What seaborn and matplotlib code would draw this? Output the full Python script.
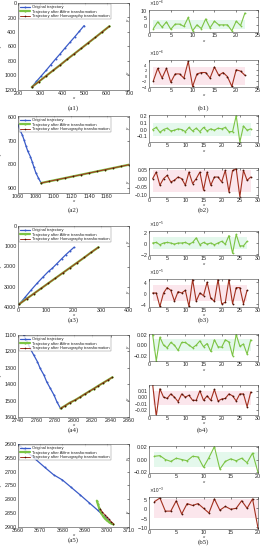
import numpy as np
import pandas as pd
import matplotlib
matplotlib.use("Agg")
import matplotlib.pyplot as plt
import seaborn as sns
from matplotlib.ticker import ScalarFormatter

sns.set_style("white")
plt.rcParams['font.family'] = ['Liberation Sans', 'DejaVu Sans']
plt.rcParams['xtick.direction'] = 'in'
plt.rcParams['ytick.direction'] = 'in'

# ---------------- trajectory data (left column) ----------------
a1_orig_x = [262, 283, 305, 327, 348, 369, 391, 412, 434, 456, 477, 498]
a1_orig_y = [1160, 1082, 1005, 928, 851, 774, 697, 620, 542, 465, 388, 311]
a1_aff_x = [262, 294, 326, 358, 390, 421, 453, 485, 517, 549, 580, 612]
a1_aff_y = [1160, 1084, 1007, 931, 855, 778, 702, 626, 549, 473, 397, 320]
a1_hom_x = [262, 294, 326, 358, 390, 421, 453, 485, 517, 549, 580, 612]
a1_hom_y = [1160, 1084, 1007, 931, 855, 778, 702, 626, 549, 473, 397, 320]

a2_orig_x = [1060, 1062, 1065, 1067, 1069, 1071, 1074, 1076, 1078, 1080, 1083, 1086]
a2_orig_y = [632, 654, 677, 699, 722, 744, 767, 789, 812, 834, 857, 878]
a2_aff_x = [1086, 1095, 1104, 1113, 1122, 1131, 1140, 1149, 1158, 1167, 1176, 1185]
a2_aff_y = [878, 871, 864, 857, 850, 843, 836, 829, 822, 815, 808, 801]
a2_hom_x = a2_aff_x
a2_hom_y = a2_aff_y

a3_orig_x = [5, 25, 48, 70, 90, 110, 124, 140, 158, 172, 188, 202]
a3_orig_y = [3850, 3530, 3150, 2810, 2520, 2240, 2080, 1860, 1610, 1420, 1220, 1050]
a3_aff_x = [5, 31, 57, 83, 109, 135, 161, 187, 213, 239, 264, 290]
a3_aff_y = [3850, 3595, 3340, 3085, 2830, 2575, 2320, 2065, 1810, 1555, 1300, 1050]
a3_hom_x = a3_aff_x
a3_hom_y = a3_aff_y

a4_orig_x = [2746, 2750, 2753, 2757, 2761, 2764, 2768, 2771, 2775, 2779, 2782, 2786]
a4_orig_y = [1100, 1141, 1181, 1222, 1263, 1304, 1344, 1385, 1426, 1467, 1507, 1548]
a4_aff_x = [2786, 2791, 2796, 2802, 2807, 2812, 2817, 2822, 2827, 2832, 2837, 2842]
a4_aff_y = [1548, 1531, 1513, 1496, 1479, 1461, 1444, 1427, 1409, 1392, 1375, 1358]
a4_hom_x = a4_aff_x
a4_hom_y = a4_aff_y

a5_orig_x = [3660, 3664, 3668, 3672, 3676, 3680, 3684, 3688, 3692, 3696, 3699, 3702]
a5_orig_y = [2600, 2628, 2656, 2684, 2711, 2730, 2757, 2784, 2812, 2840, 2863, 2885]
a5_aff_x = [3695.5, 3696.0, 3696.5, 3697.0, 3697.5, 3698.3, 3699.0, 3700.0, 3701.0, 3702.0, 3703.0]
a5_aff_y = [2805, 2818, 2830, 2840, 2850, 2860, 2868, 2876, 2882, 2887, 2890]
a5_hom_x = [3697.0, 3698.0, 3699.0, 3700.0, 3701.0, 3702.0, 3703.0]
a5_hom_y = [2835, 2846, 2855, 2864, 2872, 2881, 2888]

# ---------------- error data (right column) ----------------
b1_aff = [-2.5, 2, -1.5, 2, -3, 0.5, 0.5, -1, 5, -4, 0, -2.5, 4, -2, 2.5, 0, 0, 0, -4, 2.5, -0.5, 8]
b1_hom = [-2, 2.5, -1, 2.5, -2.5, 0.5, 0.5, -1, 5, -4, 0.5, 1, 1, -1, 3, 0, 1, -0.5, -4, 2, 1.5, 0]
b2_aff = [0, 0.03, -0.04, 0, 0.02, -0.02, -0.01, 0.01, 0, -0.03, 0.03, -0.02, 0.02, -0.03,
          0.03, -0.02, 0.01, -0.01, 0.02, 0.01, 0.03, -0.03, -0.03, 0.2, -0.18, 0.05, -0.01, 0.01]
b2_hom = [0, 0.04, -0.04, 0, 0.02, -0.02, -0.01, 0.01, 0, -0.04, 0.04, -0.03, 0, 0.04,
          -0.07, 0.04, -0.04, 0.01, 0.01, -0.02, 0.05, -0.08, 0.05, 0.06, -0.11, 0.05, -0.01, 0.01]
b3_aff = [0, 0.1, -0.3, 0, 0.1, 0, -0.2, 0, 0, 0.1, -0.2, 0.1, 0.9, -0.3, 0.1, -0.2, 0,
          -0.3, 0, 0.3, -0.2, 1.3, -1.8, 1.5, -0.5, -0.5, 0.3]
b3_hom = [0, 0, -5, 0, 2, 1, -3, 0.5, 0, 1, -5, 5, -3, 0, -1, 4, -2, -3, 5, -4, -3.5, 5,
          -4, 2, 2, -4, 1]
b4_aff = [0.02, -0.03, 0.015, 0, -0.005, 0.005, 0, -0.01, 0.005, 0.005, 0, -0.005, 0, 0.008,
          -0.003, 0.003, -0.012, 0.01, -0.003, -0.004, 0.01, 0.006, -0.02, 0.02, -0.002,
          0.002, -0.017, 0.01]
b4_hom = [0.02, -0.03, 0.013, 0, -0.002, 0.005, 0, -0.007, 0.005, 0, 0.003, -0.005, -0.005,
          0.01, -0.005, 0.002, -0.005, 0.012, -0.006, -0.003, -0.002, 0.005, 0.002, -0.006,
          0.005, 0.005, -0.015, 0.008]
b5_aff = [0.005, 0.006, 0, -0.003, 0.002, 0, -0.002, 0.005, 0.004, -0.012, 0.003, 0.02,
          -0.015, -0.003, 0.001, -0.002, 0.002, -0.005, 0.01, -0.02]
b5_hom = [3.5, 5.5, -1.5, -1.5, 4, -3, 2.5, 1.5, 2.5, 0, -2.5, 5, -1, 1, -0.5, 0, 4, 0, 5, -10.5]

panel_labels_a = ['(a1)', '(a2)', '(a3)', '(a4)', '(a5)']
panel_labels_b = ['(b1)', '(b2)', '(b3)', '(b4)', '(b5)']
legend_names = ['Original trajectory', 'Trajectory after Affine transformation',
                'Trajectory after Homography transformation']

BLUE = '#3a5bc8'
GREEN = '#7cc444'
RED = '#a3301f'
MARK = '#4a1208'

W, H = 266, 550
fig = plt.figure(figsize=(W / 100, H / 100), dpi=100)

def rect(x0, y0, x1, y1):
    return [x0 / W, 1 - y1 / H, (x1 - x0) / W, (y1 - y0) / H]

TFS = 3.9

def style_axes(ax, ylab_x, xpad, yfs=TFS):
    for s in ax.spines.values():
        s.set_linewidth(0.4)
        s.set_color('#404040')
    ax.tick_params(labelsize=TFS, length=1.5, width=0.4, pad=1.0, top=True, right=True,
                   direction='in')
    ax.tick_params(axis='y', labelsize=yfs)
    ax.set_xlabel('x', fontsize=3.2, fontstyle='italic', labelpad=xpad)
    ax.set_ylabel('y', fontsize=3.2, fontstyle='italic')
    ax.yaxis.set_label_coords(ylab_x, 0.5)

# ---- left column ----
a_rects = [rect(18, 3, 129, 90), rect(18, 116, 129, 193), rect(18, 226, 129, 307),
           rect(18, 335, 129, 417), rect(18, 444, 129, 527)]
a_data = [
    (a1_orig_x, a1_orig_y, a1_aff_x, a1_aff_y, a1_hom_x, a1_hom_y, (200, 700), (1200, 0),
     [200, 300, 400, 500, 600, 700], [0, 200, 400, 600, 800, 1000, 1200]),
    (a2_orig_x, a2_orig_y, a2_aff_x, a2_aff_y, a2_hom_x, a2_hom_y, (1060, 1185), (920, 596),
     [1060, 1080, 1100, 1120, 1140, 1160], [600, 700, 800, 900]),
    (a3_orig_x, a3_orig_y, a3_aff_x, a3_aff_y, a3_hom_x, a3_hom_y, (0, 400), (4000, 0),
     [0, 100, 200, 300, 400], [0, 1000, 2000, 3000, 4000]),
    (a4_orig_x, a4_orig_y, a4_aff_x, a4_aff_y, a4_hom_x, a4_hom_y, (2740, 2860), (1600, 1100),
     [2740, 2760, 2780, 2800, 2820, 2840, 2860], [1100, 1200, 1300, 1400, 1500, 1600]),
    (a5_orig_x, a5_orig_y, a5_aff_x, a5_aff_y, a5_hom_x, a5_hom_y, (3660, 3710), (2900, 2600),
     [3660, 3670, 3680, 3690, 3700, 3710], [2600, 2650, 2700, 2750, 2800, 2850, 2900]),
]
a_label_y = [108, 210, 320, 430, 540]

for i, (r, d) in enumerate(zip(a_rects, a_data)):
    ox, oy, ax_, ay_, hx, hy, xl, yl, xt, yt = d
    ax = fig.add_axes(r)
    sns.lineplot(x=ox, y=oy, sort=False, estimator=None, color=BLUE, lw=0.9, marker='o',
                 markersize=1.4, markeredgewidth=0, ax=ax, label=legend_names[0])
    sns.lineplot(x=ax_, y=ay_, sort=False, estimator=None, color=GREEN, lw=1.6, marker='o',
                 markersize=1.6, markeredgewidth=0, ax=ax, label=legend_names[1])
    sns.lineplot(x=hx, y=hy, sort=False, estimator=None, color=RED, lw=0.7, marker='o',
                 markersize=1.2, markerfacecolor=MARK, markeredgewidth=0, ax=ax,
                 label=legend_names[2])
    ax.set_xlim(*xl)
    ax.set_ylim(*yl)
    ax.set_xticks(xt)
    ax.set_yticks(yt)
    style_axes(ax, -0.14, 0.0)
    leg = ax.legend(loc='upper left', fontsize=2.9, frameon=True, handlelength=2.4,
                    borderpad=0.25, labelspacing=0.15, handletextpad=0.5,
                    borderaxespad=0.3, fancybox=False)
    leg.get_frame().set_linewidth(0.3)
    leg.get_frame().set_edgecolor('#606060')
    fig.text(73 / W, 1 - a_label_y[i] / H, panel_labels_a[i], fontsize=5,
             family=['Liberation Serif', 'DejaVu Serif'], ha='center', va='center')

# ---- right column ----
b_rects = [
    (rect(149, 10, 258, 32), rect(149, 60, 258, 87)),
    (rect(149, 115, 258, 142), rect(149, 168, 258, 197)),
    (rect(149, 231, 258, 255), rect(149, 279, 258, 307)),
    (rect(149, 334, 258, 361), rect(149, 385, 258, 415)),
    (rect(149, 446, 258, 473), rect(149, 497, 258, 529)),
]
b_series = [(b1_aff, b1_hom), (b2_aff, b2_hom), (b3_aff, b3_hom), (b4_aff, b4_hom),
            (b5_aff, b5_hom)]
b_exp = [(-6, -6), (0, 0), (-5, -5), (0, 0), (0, -3)]
b_xlim = [25, 30, 30, 30, 20]
b_ylims = [((-4.8, 10), (-4.2, 5.5)), ((-0.18, 0.21), (-0.112, 0.065)),
           ((-2.1, 2.1), (-5.2, 5.2)), ((-0.03, 0.021), (-0.028, 0.019)),
           ((-0.021, 0.021), (-11, 6))]
b_yticks = [([0, 5, 10], [-4, -2, 0, 2, 4]), ([-0.1, 0, 0.1, 0.2], [-0.1, -0.05, 0, 0.05]),
            ([-2, 0, 2], [-4, 0, 4]), ([-0.02, 0, 0.02], [-0.02, -0.01, 0, 0.01]),
            ([-0.02, 0, 0.02], [-10, -5, 0, 5])]
b_yfs = [(TFS, 2.9), (TFS, 3.6), (TFS, 3.4), (TFS, 3.6), (TFS, TFS)]
b_bands = [((-3, 3), (-3.5, 3)), ((-0.1, 0.1), (-0.08, 0.05)), ((-1, 1), (-3, 3)),
           ((-0.012, 0.012), (-0.012, 0.01)), ((-0.012, 0.012), (-5, 5))]
b_label_y = [108, 210, 320, 430, 542]

for i in range(5):
    for j in range(2):
        ax = fig.add_axes(b_rects[i][j])
        e = b_exp[i][j]
        s = 10.0 ** e
        vals = np.array(b_series[i][j]) * s
        xs = np.arange(1, len(vals) + 1)
        lo, hi = b_ylims[i][j]
        blo, bhi = b_bands[i][j]
        ax.fill_between([xs[0], xs[-1]], blo * s, bhi * s,
                        color='#e4f8ec' if j == 0 else '#fbe6ec', lw=0, zorder=0)
        if j == 0:
            sns.lineplot(x=xs, y=vals, color=GREEN, lw=0.8, marker='o', markersize=1.3,
                         markeredgewidth=0, ax=ax)
        else:
            sns.lineplot(x=xs, y=vals, color=RED, lw=0.8, marker='o', markersize=1.3,
                         markerfacecolor=MARK, markeredgewidth=0, ax=ax)
        ax.set_xlim(0, b_xlim[i])
        ax.set_xticks(np.arange(0, b_xlim[i] + 1, 5))
        ax.set_ylim(lo * s, hi * s)
        ax.set_yticks(np.array(b_yticks[i][j]) * s)
        if e != 0:
            fmt = ScalarFormatter(useMathText=True)
            fmt.set_powerlimits((e, e))
            ax.yaxis.set_major_formatter(fmt)
        style_axes(ax, -0.17, 0.6 if j == 0 else 0.0, b_yfs[i][j])
        if e != 0:
            ax.yaxis.get_offset_text().set_fontsize(3.4)
    fig.text(203 / W, 1 - b_label_y[i] / H, panel_labels_b[i], fontsize=5,
             family=['Liberation Serif', 'DejaVu Serif'], ha='center', va='center')

fig.savefig('out.png', dpi=100)
